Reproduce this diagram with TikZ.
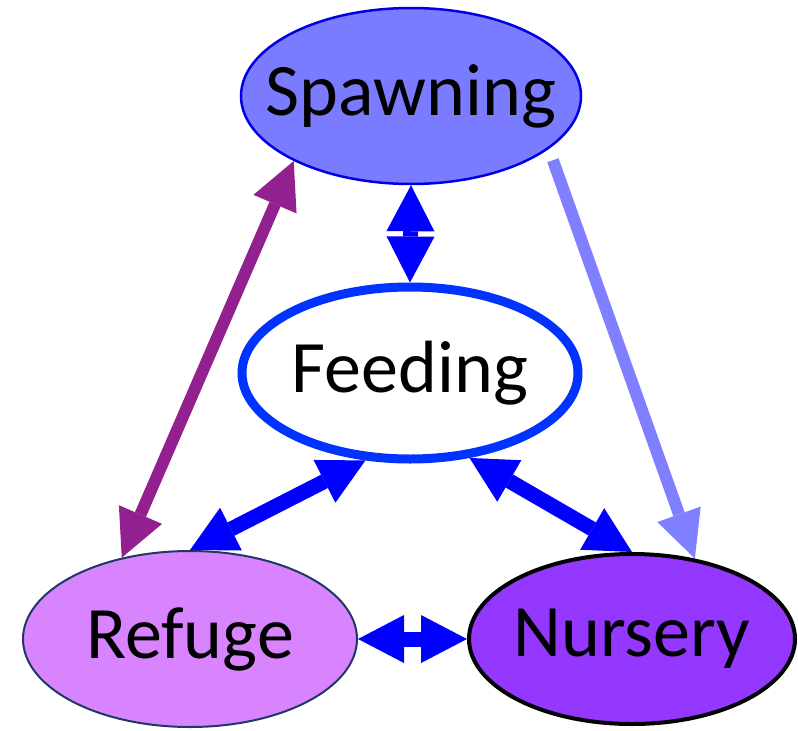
\documentclass[tikz,border=0pt]{standalone}
\usepackage{fontspec}
\setmainfont{Carlito}
\usetikzlibrary{shapes.geometric,arrows.meta}
\definecolor{spawnfill}{HTML}{7B7BFF}
\definecolor{spawnline}{HTML}{0000E6}
\definecolor{feedline}{HTML}{0033FF}
\definecolor{refugefill}{HTML}{D884FF}
\definecolor{refugeline}{HTML}{1F3864}
\definecolor{nurseryfill}{HTML}{9438FF}
\definecolor{linkpurple}{HTML}{93208F}
\definecolor{linklight}{HTML}{7F7FFF}
\definecolor{linkblue}{HTML}{0000FF}
% keep the ellipse at its minimum size, whatever the word
\newcommand{\habitat}[1]{\makebox[0pt]{#1}}
\begin{document}
\begin{tikzpicture}[x=1pt, y=-1pt, every node/.style={ellipse, inner sep=0pt, font=\fontsize{74}{80}\selectfont}, bighead/.tip={Triangle[length=46pt,width=48pt,line width=0pt]}, link/.style={draw=linkblue, line width=15pt, bighead-bighead}]
    \useasboundingbox (0,0) rectangle (798,731);
    \node[draw=spawnline, line width=2.5pt, fill=spawnfill, minimum width=340pt, minimum height=176pt] (spawn) at (411,96) {\habitat{Spawning}};
    \node[draw=feedline, line width=9pt, fill=white, minimum width=336pt, minimum height=172pt] (feed) at (410,373) {\habitat{Feeding}};
    \node[draw=refugeline, line width=2pt, fill=refugefill, minimum width=334pt, minimum height=176pt] (refuge) at (190,639) {\habitat{Refuge}};
    \node[draw=black, line width=4pt, fill=nurseryfill, minimum width=326pt, minimum height=170pt] (nursery) at (632,639) {\habitat{Nursery}};
    % links between habitats
    \draw[draw=linkpurple, line width=12pt, {Triangle[length=47pt,width=47pt,line width=0pt]}-{Triangle[length=47pt,width=47pt,line width=0pt]}] (refuge.130) -- (spawn.209);
    \draw[draw=linklight, line width=12pt, -{Triangle[length=47pt,width=46pt,line width=0pt]}, shorten <=12pt] (spawn.339) -- (nursery.52);
    \draw[link] (spawn.south) -- (feed.north);
    \draw[link] (feed.243) -- (refuge.north);
    \draw[link] (feed.305) -- (nursery.north);
    \draw[link] (refuge.east) -- (nursery.west);
\end{tikzpicture}
\end{document}
